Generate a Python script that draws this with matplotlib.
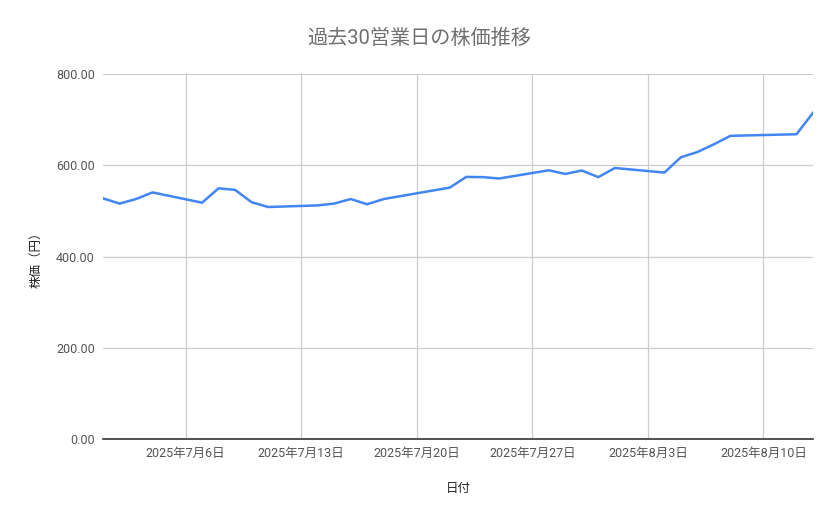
import numpy as np
import pandas as pd
import matplotlib
matplotlib.use("Agg")
import matplotlib.pyplot as plt

# ==========================
# Data
# ==========================

dates = [
    "2025-07-01", "2025-07-02", "2025-07-03", "2025-07-04",
    "2025-07-07", "2025-07-08", "2025-07-09", "2025-07-10", "2025-07-11",
    "2025-07-14", "2025-07-15", "2025-07-16", "2025-07-17", "2025-07-18",
    "2025-07-22", "2025-07-23", "2025-07-24", "2025-07-25",
    "2025-07-28", "2025-07-29", "2025-07-30", "2025-07-31", "2025-08-01",
    "2025-08-04", "2025-08-05", "2025-08-06", "2025-08-07", "2025-08-08",
    "2025-08-12", "2025-08-13",
]

prices = [
    527.5, 516, 526, 540.5,
    518, 549.5, 546, 519, 508.5,
    512, 516, 526, 514.5, 526,
    551, 574.5, 574, 571,
    589, 581, 588.5, 574, 594,
    584, 617.5, 629, 646, 664.5,
    668, 715,
]

tick_dates = ["2025-07-06", "2025-07-13", "2025-07-20", "2025-07-27",
              "2025-08-03", "2025-08-10"]
tick_labels = ["2025年7月6日", "2025年7月13日", "2025年7月20日",
               "2025年7月27日", "2025年8月3日", "2025年8月10日"]

y_ticks = [0, 200, 400, 600, 800]

# ==========================
# Plot
# ==========================

plt.rcParams["font.family"] = ["Roboto", "Noto Sans CJK JP", "DejaVu Sans"]

x = pd.to_datetime(dates)

fig = plt.figure(figsize=(8.39, 5.19), dpi=100)
ax = fig.add_axes([0.1228, 0.1541, 0.8462, 0.7033])

ax.plot(x, prices, color="#4285F4", linewidth=1.8)

ax.set_xlim(pd.Timestamp("2025-07-01"), pd.Timestamp("2025-08-13"))
ax.set_ylim(0, 800)

ax.set_xticks(pd.to_datetime(tick_dates))
ax.set_xticklabels(tick_labels)
ax.set_yticks(y_ticks)
ax.set_yticklabels([f"{v:.2f}" for v in y_ticks])

ax.grid(True, color="#cccccc", linewidth=0.9)
ax.set_axisbelow(True)

for side in ["top", "right", "left"]:
    ax.spines[side].set_visible(False)
ax.spines["bottom"].set_color("#333333")
ax.spines["bottom"].set_linewidth(1.2)

ax.tick_params(axis="both", length=0, labelsize=9, labelcolor="#555555")
ax.tick_params(axis="x", pad=6)
ax.tick_params(axis="y", pad=6)

fig.suptitle("過去30営業日の株価推移", x=0.5, y=0.945,
             fontsize=14.5, color="#707070")
ax.set_xlabel("日付", fontsize=9, color="#222222", labelpad=15.5)
ax.set_ylabel("株価（円）", fontsize=9, color="#222222", labelpad=10)

fig.savefig("out.png", dpi=100)
